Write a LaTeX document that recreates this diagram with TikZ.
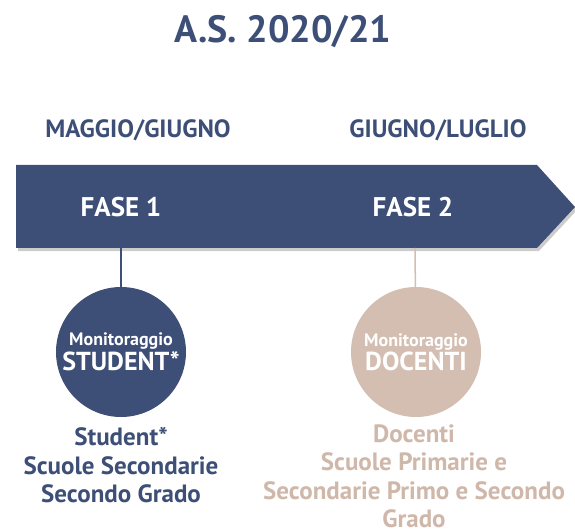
\documentclass[tikz,border=0pt]{standalone}
\usepackage{fontspec}
\setmainfont{PT Sans}
\definecolor{navy}{HTML}{3D4F76}
\definecolor{sand}{HTML}{D3BEB1}
\definecolor{sandtext}{HTML}{CFB7A9}
\begin{document}
\begin{tikzpicture}[x=1pt,y=-1pt,
  period/.style={text=navy,font=\bfseries\fontsize{25}{28}\selectfont},
  phase/.style={text=white,font=\bfseries\fontsize{27}{30}\selectfont},
  bubble/.style={circle,minimum size=130pt,inner sep=0pt,align=center,text=white},
  caption/.style={align=center,font=\bfseries\fontsize{25}{28.5}\selectfont}]
\path[use as bounding box] (0,0) rectangle (575,529);

\node[text=navy,font=\bfseries\fontsize{38}{40}\selectfont] (title) at (283,32) {A.S. 2020/21};

\node[period] (may) at (138,130) {MAGGIO/GIUGNO};
\node[period] (jun) at (438,130) {GIUGNO/LUGLIO};

% freccia
\fill[black!20] (18,168) -- (539,168) -- (577,210) -- (539,251) -- (18,251) -- cycle;
\fill[navy] (16,165) -- (537,165) -- (575,207) -- (537,248) -- (16,248) -- cycle;
\coordinate (b1) at (121,248);
\coordinate (b2) at (415,248);

\node[phase] (fase1) at (121,207) {FASE 1};
\node[phase] (fase2) at (413,207) {FASE 2};

\node[bubble,fill=navy] (stud) at (121,352) {{\fontsize{18}{20}\selectfont\bfseries Monitoraggio}\\[1pt]{\fontsize{26}{28}\selectfont\bfseries STUDENT*}};
\node[bubble,fill=sand] (doc) at (416,352) {{\fontsize{18}{20}\selectfont\bfseries Monitoraggio}\\[1pt]{\fontsize{26}{28}\selectfont\bfseries DOCENTI}};

\draw[navy,line width=1.5pt] (b1) -- (stud);
\draw[sand,line width=1.5pt] (b2) -- (doc);

\node[caption,text=navy,anchor=north] (studtxt) at (121,424) {Student*\\Scuole Secondarie\\Secondo Grado};
\node[caption,text=sandtext,anchor=north] (doctxt) at (414,421) {Docenti\\Scuole Primarie e\\Secondarie Primo e Secondo\\Grado};
\end{tikzpicture}
\end{document}
